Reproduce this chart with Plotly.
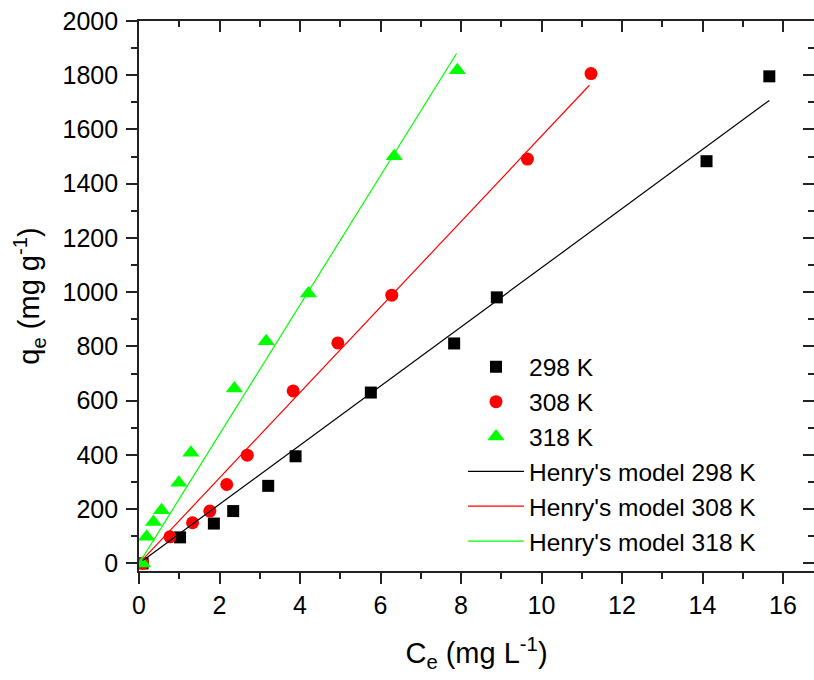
import plotly.graph_objects as go

# ---- data ----
ce_298 = [0.09, 1.02, 1.86, 2.34, 3.21, 3.89, 5.76, 7.83, 8.89, 14.10, 15.66]
qe_298 = [0, 96, 147, 193, 286, 395, 630, 811, 981, 1483, 1796]

ce_308 = [0.09, 0.77, 1.33, 1.76, 2.18, 2.69, 3.83, 4.94, 6.28, 9.65, 11.23]
qe_308 = [0, 98, 150, 193, 291, 399, 636, 813, 989, 1491, 1806]

ce_318 = [0.09, 0.19, 0.36, 0.56, 0.99, 1.29, 2.37, 3.16, 4.21, 6.34, 7.91]
qe_318 = [0, 98, 153, 196, 297, 408, 645, 819, 995, 1501, 1818]

# Henry's model fitted lines (end points)
fit_298_x = [0.09, 15.66]
fit_298_y = [10, 1707]
fit_308_x = [0.09, 11.19]
fit_308_y = [14, 1763]
fit_318_x = [0.09, 7.89]
fit_318_y = [21, 1880]

x_range = [0, 16.77]
y_range = [-28, 2000]

FONT = "Liberation Sans, Arial, sans-serif"
AX = "#222222"

fig = go.Figure()
fig.add_trace(go.Scatter(x=ce_298, y=qe_298, mode="markers", name="298 K",
                         marker=dict(symbol="square", size=12, color="#000000")))
fig.add_trace(go.Scatter(x=ce_308, y=qe_308, mode="markers", name="308 K",
                         marker=dict(symbol="circle", size=13, color="#ff0000")))
fig.add_trace(go.Scatter(x=ce_318, y=qe_318, mode="markers", name="318 K",
                         marker=dict(symbol="triangle-up", size=15, color="#00ff00")))
fig.add_trace(go.Scatter(x=fit_298_x, y=fit_298_y, mode="lines", name="Henry's model 298 K",
                         line=dict(color="#000000", width=1.2)))
fig.add_trace(go.Scatter(x=fit_308_x, y=fit_308_y, mode="lines", name="Henry's model 308 K",
                         line=dict(color="#ff0000", width=1.2)))
fig.add_trace(go.Scatter(x=fit_318_x, y=fit_318_y, mode="lines", name="Henry's model 318 K",
                         line=dict(color="#00ff00", width=1.2)))
# invisible trace to create the mirrored top/right axes
fig.add_trace(go.Scatter(x=[x_range[0]], y=[y_range[0]], xaxis="x2", yaxis="y2",
                         mode="markers", marker=dict(opacity=0), showlegend=False,
                         hoverinfo="skip"))

fig.update_layout(
    width=814, height=680,
    margin=dict(l=139, r=0, t=21, b=109),
    paper_bgcolor="white", plot_bgcolor="white",
    font=dict(family=FONT, size=25, color="#000000"),
    showlegend=True,
    legend=dict(x=0.48, y=0.412, xanchor="left", yanchor="top",
                bgcolor="rgba(0,0,0,0)", font=dict(family=FONT, size=24.5),
                itemwidth=56, tracegroupgap=0),
    xaxis=dict(range=x_range, showgrid=False, zeroline=False,
               showline=True, linecolor=AX, linewidth=1.6,
               ticks="outside", ticklen=11, tickwidth=1.5, tickcolor=AX,
               tick0=0, dtick=2, tickfont=dict(size=25),
               minor=dict(ticks="outside", ticklen=6, dtick=1, tickcolor=AX, tickwidth=1.5),
               title=dict(text="C<sub>e</sub> (mg L<sup>-1</sup>)", font=dict(size=29), standoff=25)),
    yaxis=dict(range=y_range, showgrid=False, zeroline=False,
               showline=True, linecolor=AX, linewidth=1.6,
               ticks="outside", ticklen=11, tickwidth=1.5, tickcolor=AX,
               tick0=0, dtick=200, tickfont=dict(size=25), ticklabelstandoff=3,
               minor=dict(ticks="outside", ticklen=6, dtick=100, tickcolor=AX, tickwidth=1.5),
               title=dict(text="q<sub>e</sub> (mg g<sup>-1</sup>)", font=dict(size=29), standoff=14)),
    xaxis2=dict(range=x_range, overlaying="x", side="top", matches="x",
                showgrid=False, zeroline=False, showticklabels=False,
                showline=True, linecolor=AX, linewidth=1.6,
                ticks="inside", ticklen=11, tickwidth=1.5, tickcolor=AX,
                tick0=0, dtick=2,
                minor=dict(ticks="inside", ticklen=6, dtick=1, tickcolor=AX, tickwidth=1.5)),
    yaxis2=dict(range=y_range, overlaying="y", side="right", matches="y",
                showgrid=False, zeroline=False, showticklabels=False,
                showline=True, linecolor=AX, linewidth=1.6,
                ticks="inside", ticklen=11, tickwidth=1.5, tickcolor=AX,
                tick0=0, dtick=200,
                minor=dict(ticks="inside", ticklen=6, dtick=100, tickcolor=AX, tickwidth=1.5)),
)

fig.write_html("out.html")
